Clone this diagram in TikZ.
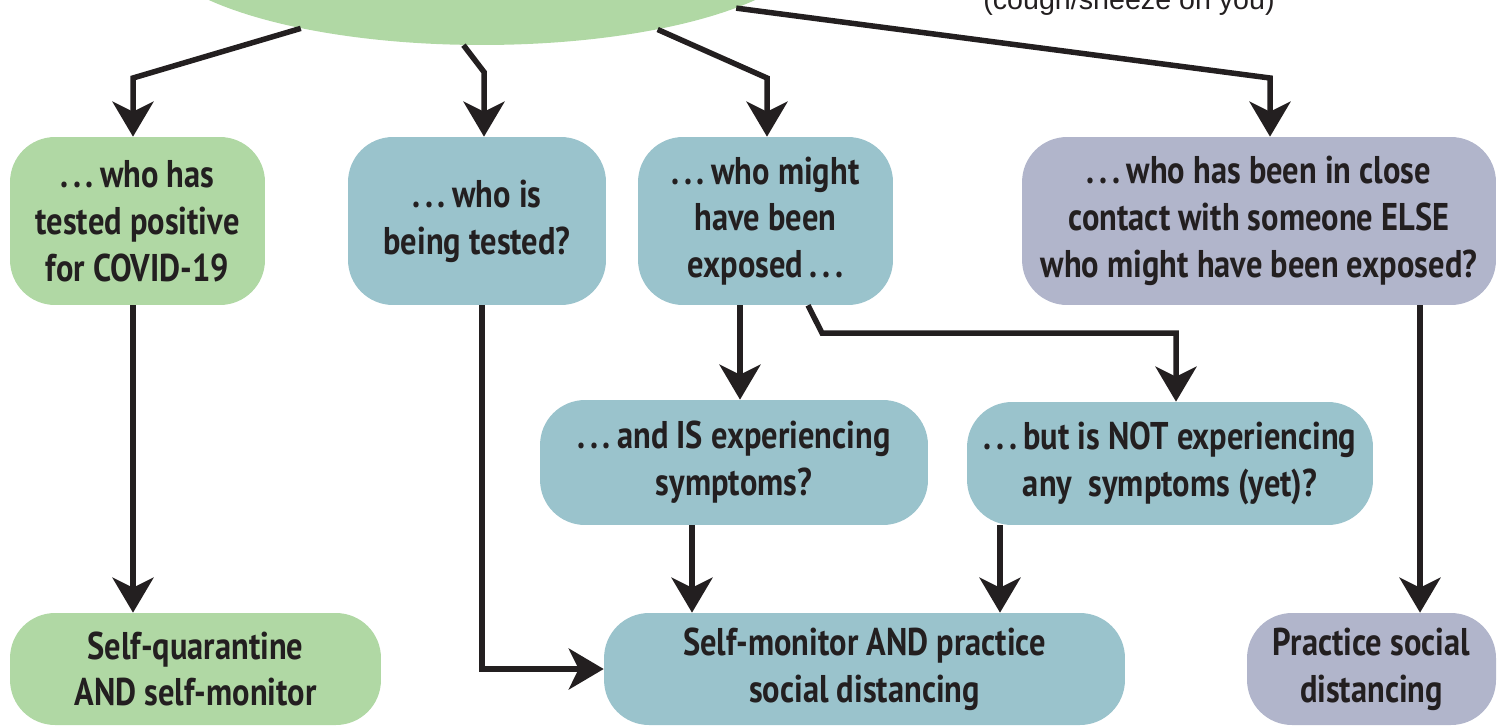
\documentclass[tikz,border=0pt]{standalone}
\usepackage{fontspec}
\setmainfont[FakeStretch=0.84]{PT Sans}
\newfontfamily\coughfont{Liberation Sans}
\usetikzlibrary{arrows.meta,shapes.geometric}

\definecolor{ink}{HTML}{231F20}
\definecolor{leaf}{HTML}{B0D8A4}
\definecolor{sea}{HTML}{9AC3CC}
\definecolor{lilac}{HTML}{B1B5CB}

\newcommand\dotsp{.\kern0.12em.\kern0.12em.}

\begin{document}
\begin{tikzpicture}[x=0.02cm, y=-0.02cm,
        box/.style={rounded corners=0.9cm, align=center, inner sep=0pt,
            text=ink, font=\bfseries\fontsize{22}{26.6}\selectfont},
        link/.style={line width=0.11cm, draw=ink,
            -{Stealth[length=0.7cm,width=0.82cm,inset=0.2cm]}}]
            \useasboundingbox (0, 0) rectangle (1506, 727);
            \clip (0, 0) rectangle (1506, 727);

            % top of the chart, cut off by the page
            \node[ellipse,fill=leaf,inner sep=0pt,minimum width=13.32cm,minimum height=4.2cm]
                (root) at (482, -60) {};
            \node[anchor=base,text=ink,font=\coughfont\fontsize{16.3}{19}\selectfont]
                (note) at (1129, 9) {(cough/sneeze on you)};

            % first row
            \node[box,fill=leaf,minimum width=5.1cm,minimum height=3.36cm]
                (p1) at (137.5, 221) {\dotsp\,who has\\tested positive\\for COVID-19};
            \node[box,fill=sea,minimum width=5.16cm,minimum height=3.36cm]
                (p2) at (477, 221) {\dotsp\,who is\\being tested?};
            \node[box,fill=sea,minimum width=5.1cm,minimum height=3.36cm]
                (p3) at (765.5, 221) {\dotsp\,who might\\have been\\exposed\,\dotsp};
            \node[box,fill=lilac,minimum width=9.48cm,minimum height=3.36cm]
                (p4) at (1259, 221) {\dotsp\,who has been in close\\contact with someone ELSE\\who might have been exposed?};

            % second row
            \node[box,fill=sea,minimum width=7.76cm,minimum height=2.5cm]
                (p5) at (734, 462.5) {\dotsp\,and IS experiencing\\symptoms?};
            \node[box,fill=sea,minimum width=8.12cm,minimum height=2.46cm]
                (p6) at (1170, 463.5) {\dotsp\,but is NOT experiencing\\any~~symptoms (yet)?};

            % third row
            \node[box,fill=leaf,minimum width=7.42cm,minimum height=2.24cm]
                (p7) at (195.5, 669) {Self-quarantine\\AND self-monitor};
            \node[box,fill=sea,minimum width=10.42cm,minimum height=2.24cm]
                (p8) at (864.5, 669) {Self-monitor AND practice\\social distancing};
            \node[box,fill=lilac,minimum width=4.98cm,minimum height=2.24cm]
                (p9) at (1371.5, 669) {Practice social\\distancing};

            % arrows
            \draw[link] (root.-154.8) -- (133, 78) -- (133, 78 |- p1.north);
            \draw[link] (root.-100.6) -- (484, 72) -- (484, 72 |- p2.north);
            \draw[link] (root.-27.2) -- (767, 78) -- (767, 78 |- p3.north);
            \draw[link] (root.-15.2) -- (1270, 78) -- (1270, 78 |- p4.north);

            \draw[link] (133, 0 |- p1.south) -- (133, 0 |- p7.north);
            \draw[link] (482, 0 |- p2.south) |- (p8.west);
            \draw[link] (740, 0 |- p3.south) -- (740, 0 |- p5.north);
            \draw[link] (808, 0 |- p3.south) -- (822, 333) -| (1176, 0 |- p6.north);
            \draw[link] (692, 0 |- p5.south) -- (692, 0 |- p8.north);
            \draw[link] (1000, 0 |- p6.south) -- (1000, 0 |- p8.north);
            \draw[link] (1420, 0 |- p4.south) -- (1420, 0 |- p9.north);
        \end{tikzpicture}
\end{document}
